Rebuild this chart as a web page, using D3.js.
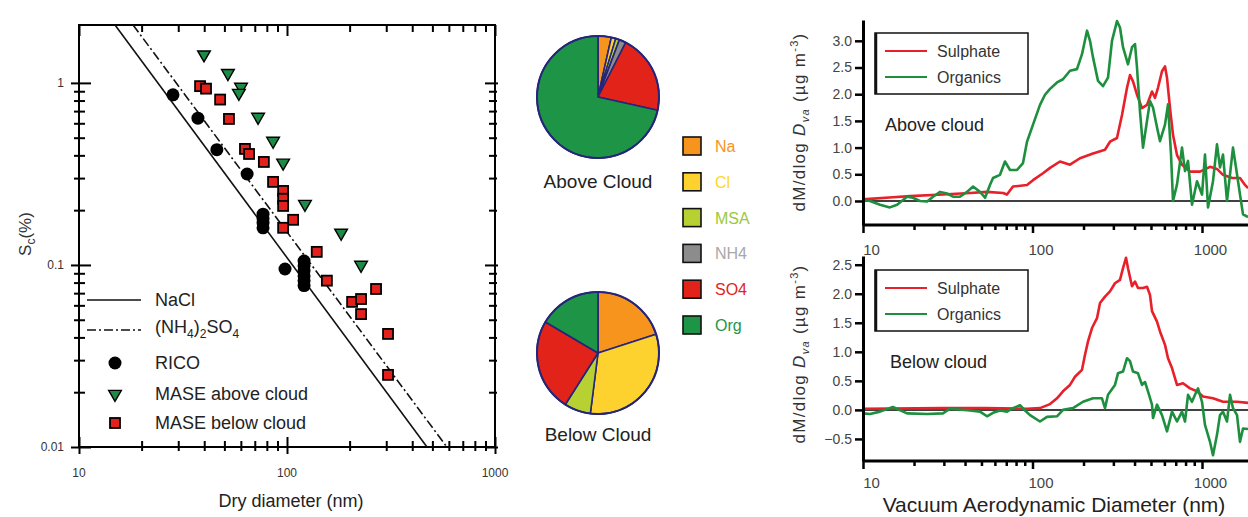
<!DOCTYPE html>
<html>
<head>
<meta charset="utf-8">
<script src="https://cdn.jsdelivr.net/npm/d3@7"></script>
<style>
body { margin: 0; background: #fff; }
svg { font-family: "Liberation Sans", Arial, Helvetica, sans-serif; }
</style>
</head>
<body>
<svg id="fig" width="1248" height="517"></svg>
<script>
// ---------- left panel data: critical supersaturation vs dry diameter ----------
const ricoPts = [[28.3,0.86],[37.3,0.64],[46.0,0.43],[64.3,0.316],[76.7,0.19],[76.7,0.18],[76.7,0.17],[76.7,0.16],
  [97.8,0.095],[120.8,0.105],[120.8,0.099],[120.8,0.093],[120.8,0.087],[120.8,0.082],[120.8,0.077]];
const maseAbove = [[39.9,1.43],[52.0,1.13],[60.1,0.95],[58.7,0.88],[72.6,0.65],[85.7,0.48],[95.8,0.364],
  [122,0.216],[182,0.150],[227,0.10]];
const maseBelow = [[38.2,0.96],[40.8,0.93],[47.7,0.81],[52.6,0.634],[62.8,0.434],[65.7,0.407],[77.4,0.368],
  [85.7,0.286],[95.8,0.255],[95.8,0.231],[95.8,0.211],[107,0.177],[95.8,0.16],[139,0.118],[155.5,0.082],
  [268,0.0738],[205.6,0.0627],[227,0.065],[227,0.0537],[306,0.0418],[306,0.0249]];
const naclLine = [[14.9,2.08],[471,0.01]];
const amsLine = [[18.2,2.08],[587,0.01]];
const xTicksL = [10, 100, 1000];
const yTicksL = [0.01, 0.1, 1];

// ---------- pie data: mass fractions ----------
const species = ["Na", "Cl", "MSA", "NH4", "SO4", "Org"];
const speciesFill = ["#f7941d", "#fdd22e", "#b8d132", "#8c8c8c", "#e2231a", "#1e9447"];
const speciesText = ["#f7941d", "#ffd52a", "#9cc83c", "#a8a8a8", "#e2231a", "#1e9447"];
const aboveFrac = [0.035, 0.012, 0.010, 0.018, 0.210, 0.715];
const belowFrac = [0.200, 0.320, 0.070, 0.000, 0.245, 0.165];

// ---------- right panels data: [vacuum aerodynamic diameter nm, dM/dlogDva] ----------
const aboveSulphate = [[10,0.03],[11.0,0.04],[15.0,0.07],[18.9,0.09],[29.6,0.12],[42.8,0.15],[53.9,0.17],
  [67.0,0.15],[70.7,0.12],[76.7,0.27],[92.8,0.30],[100.7,0.39],[115.3,0.52],[126.9,0.62],[145.3,0.74],
  [166.4,0.68],[190.6,0.80],[227.5,0.89],[267.7,0.96],[286.5,1.11],[315.1,1.18],[337.3,1.61],[361.1,2.12],
  [376.1,2.36],[391.7,2.24],[413.5,1.99],[442.6,1.74],[473.7,1.80],[507.0,2.05],[528.1,1.93],[550.0,2.12],
  [580.8,2.43],[605.0,2.52],[621.6,2.31],[647.5,1.74],[674.5,1.24],[712.1,0.86],[762.1,0.68],[849.7,0.55],
  [973.2,0.55],[1114.8,0.64],[1225.9,0.60],[1330.1,0.49],[1503.2,0.43],[1676.0,0.43],[1793.7,0.30],[1868.3,0.24]];
const aboveOrganics = [[10,0.02],[11.0,0.0],[12.6,-0.07],[14.4,-0.12],[15.9,-0.07],[18.2,0.08],[19.7,0.06],
  [21.7,0.0],[23.9,-0.01],[25.9,0.08],[28.5,0.17],[31.3,0.14],[34.0,0.08],[37.3,0.08],[41.1,0.17],[44.6,0.27],
  [49.0,0.17],[52.5,0.06],[56.1,0.30],[58.5,0.43],[64.3,0.49],[68.8,0.74],[73.7,0.58],[81.0,0.58],[87.9,0.71],
  [92.8,1.11],[100.7,1.43],[110.7,1.80],[118.5,1.99],[126.9,2.10],[139.5,2.22],[151.3,2.28],[166.4,2.44],
  [183.0,2.47],[195.9,2.75],[209.7,3.19],[218.4,3.0],[227.5,2.69],[243.5,2.25],[260.6,2.15],[278.9,2.31],
  [294.4,3.0],[315.1,3.37],[328.2,3.25],[342.0,2.88],[366.0,2.56],[386.4,2.88],[402.5,2.94],[413.5,2.5],
  [430.7,1.68],[448.7,1.0],[473.7,1.5],[493.4,1.87],[513.9,1.75],[542.6,1.38],[565.2,1.12],[605.0,1.43],
  [630.2,1.81],[656.4,0.87],[674.5,0.0],[712.1,0.31],[762.1,1.0],[793.8,0.56],[827.0,0.75],[873.0,-0.07],
  [934.3,0.37],[1000,0.12],[1041.6,0.87],[1084.9,-0.12],[1161.1,0.37],[1225.9,1.06],[1276.8,0.63],
  [1330.1,0.87],[1404.5,0.0],[1463.0,0.5],[1523.8,1.0],[1609.1,0.5],[1676.0,0.12],[1745.8,-0.25],[1868.3,-0.3]];
const belowSulphate = [[10,0.02],[29.6,0.03],[52.5,0.03],[92.8,0.02],[110.7,0.03],[126.9,0.10],[139.5,0.20],
  [151.3,0.32],[166.4,0.43],[178.1,0.57],[195.9,0.69],[204.1,0.95],[212.6,1.18],[224.4,1.41],[240.2,1.58],
  [250.2,1.84],[267.7,1.95],[286.5,2.04],[306.6,2.18],[328.2,2.24],[342.0,2.44],[356.2,2.62],[366.0,2.44],
  [386.4,2.13],[402.5,2.21],[419.2,2.10],[448.7,2.10],[473.7,2.12],[493.4,1.98],[507.0,1.70],[542.6,1.52],
  [565.2,1.35],[605.0,1.12],[630.2,0.89],[665.3,0.72],[712.1,0.43],[772.6,0.46],[849.7,0.37],[934.3,0.32],
  [1013.7,0.23],[1161.1,0.20],[1330.1,0.14],[1609.1,0.14],[1868.3,0.12]];
const belowOrganics = [[10,-0.06],[11.0,-0.07],[12.6,-0.03],[15.0,0.05],[18.2,-0.06],[23.9,-0.07],[29.6,-0.06],
  [32.6,0.02],[42.8,-0.01],[49.0,-0.03],[53.9,-0.11],[58.5,-0.05],[64.3,-0.01],[70.7,-0.03],[76.7,0.03],
  [84.4,0.08],[90.3,-0.01],[96.7,-0.09],[110.7,-0.20],[121.8,-0.12],[139.5,-0.11],[151.3,0.0],[173.4,0.03],
  [198.6,0.14],[227.5,0.20],[257.0,0.20],[267.7,0.03],[278.9,0.26],[306.6,0.43],[319.4,0.63],[342.0,0.66],
  [361.1,0.89],[376.1,0.84],[391.7,0.66],[419.2,0.63],[442.6,0.43],[461.0,0.48],[480.2,0.32],[507.0,0.09],
  [513.9,-0.14],[542.6,0.09],[580.8,-0.09],[621.6,-0.37],[665.3,-0.03],[712.1,-0.20],[762.1,-0.03],
  [793.8,-0.2],[827.0,0.26],[873.0,0.14],[909.3,0.26],[947.1,0.37],[1000,0.14],[1041.6,-0.26],[1114.8,-0.55],
  [1161.1,-0.78],[1225.9,-0.43],[1276.8,-0.09],[1330.1,-0.03],[1404.5,-0.2],[1463.0,0.26],[1523.8,0.03],
  [1609.1,-0.09],[1676.0,-0.55],[1745.8,-0.32],[1868.3,-0.33]];
const xTicksR = [10, 100, 1000];
const yTicksTop = [0, 0.5, 1, 1.5, 2, 2.5, 3];
const yTicksBottom = [-0.5, 0, 0.5, 1, 1.5, 2, 2.5];

const svg = d3.select("#fig");
const RED = "#e8202a", GREEN = "#1e8f3e";

// ================= left panel =================
const L = { x0: 79, x1: 495, y0: 25, y1: 447 };
const xL = d3.scaleLog().domain([10, 1000]).range([L.x0, L.x1]);
const yL = d3.scaleLog().domain([0.01, 2.08]).range([L.y1, L.y0]);
const isMajor = v => Math.abs(Math.log10(v) - Math.round(Math.log10(v))) < 1e-6;
const xMinorL = xL.ticks().filter(v => !isMajor(v));
const yMinorL = yL.ticks().filter(v => !isMajor(v) && v < 2.0);

const left = svg.append("g");

left.append("defs").append("clipPath").attr("id", "clipL")
  .append("rect").attr("x", L.x0).attr("y", L.y0).attr("width", L.x1 - L.x0).attr("height", L.y1 - L.y0);

// crossing ticks: outward + inward, drawn with d3 axes
function tickPair(g, outAxis, inAxis, values, outLen, inLen) {
  g.append("g").call(outAxis.tickValues(values).tickSize(outLen).tickFormat("")).call(a => a.select(".domain").remove());
  g.append("g").call(inAxis.tickValues(values).tickSize(inLen).tickFormat("")).call(a => a.select(".domain").remove());
}
const gl = left.append("g").attr("transform", `translate(${L.x0},0)`);
tickPair(gl, d3.axisLeft(yL), d3.axisRight(yL), yTicksL, 8, 12);
tickPair(gl, d3.axisLeft(yL), d3.axisRight(yL), yMinorL, 5, 6);
const gr = left.append("g").attr("transform", `translate(${L.x1},0)`);
tickPair(gr, d3.axisRight(yL), d3.axisLeft(yL), yTicksL, 3, 10);
tickPair(gr, d3.axisRight(yL), d3.axisLeft(yL), yMinorL, 2, 6);
const gb = left.append("g").attr("transform", `translate(0,${L.y1})`);
tickPair(gb, d3.axisBottom(xL), d3.axisTop(xL), xTicksL, 7, 10);
tickPair(gb, d3.axisBottom(xL), d3.axisTop(xL), xMinorL, 4, 6);
const gt = left.append("g").attr("transform", `translate(0,${L.y0})`);
gt.append("g").call(d3.axisBottom(xL).tickValues(xTicksL).tickSize(11).tickFormat("")).call(a => a.select(".domain").remove());
gt.append("g").call(d3.axisBottom(xL).tickValues(xMinorL).tickSize(7).tickFormat("")).call(a => a.select(".domain").remove());
left.selectAll(".tick line").attr("stroke", "#000").attr("stroke-width", 2);

left.append("rect").attr("x", L.x0).attr("y", L.y0).attr("width", L.x1 - L.x0).attr("height", L.y1 - L.y0)
  .attr("fill", "none").attr("stroke", "#000").attr("stroke-width", 2);

// tick labels
left.append("g").selectAll("text").data(yTicksL).join("text")
  .attr("x", 64).attr("y", d => yL(d)).attr("dy", "0.35em").attr("text-anchor", "end")
  .attr("font-size", 12).attr("fill", "#333").text(d => d === 1 ? "1" : d === 0.1 ? "0.1" : "0.01");
left.append("g").selectAll("text").data(xTicksL).join("text")
  .attr("x", d => xL(d)).attr("y", 473).attr("dy", "0.35em").attr("text-anchor", "middle")
  .attr("font-size", 12).attr("fill", "#333").text(d => d);

// axis titles
left.append("text").attr("x", 291).attr("y", 507).attr("text-anchor", "middle")
  .attr("font-size", 18).attr("fill", "#222").text("Dry diameter (nm)");
const yt = left.append("text").attr("transform", "translate(31,234) rotate(-90)").attr("text-anchor", "middle")
  .attr("font-size", 17).attr("fill", "#333");
yt.append("tspan").text("S");
yt.append("tspan").attr("font-size", 12).attr("dy", 4).text("c");
yt.append("tspan").attr("dy", -4).text("(%)");

// theory lines
const lineL = d3.line().x(d => xL(d[0])).y(d => yL(d[1]));
const plotL = left.append("g").attr("clip-path", "url(#clipL)");
plotL.append("path").datum(naclLine).attr("d", lineL).attr("fill", "none").attr("stroke", "#111").attr("stroke-width", 1.6);
plotL.append("path").datum(amsLine).attr("d", lineL).attr("fill", "none").attr("stroke", "#111").attr("stroke-width", 1.6)
  .attr("stroke-dasharray", "9,3,2,3");

// markers
const triSym = d3.symbol().type(d3.symbolTriangle).size(70);
function drawRico(g, pts) {
  g.selectAll(null).data(pts).join("circle").attr("cx", d => xL(d[0])).attr("cy", d => yL(d[1]))
    .attr("r", 6.5).attr("fill", "#000");
}
function drawTri(g, pts) {
  g.selectAll(null).data(pts).join("path").attr("d", triSym)
    .attr("transform", d => `translate(${xL(d[0])},${yL(d[1])}) rotate(180)`)
    .attr("fill", "#1d8a45").attr("stroke", "#000").attr("stroke-width", 1.4);
}
function drawSq(g, pts) {
  g.selectAll(null).data(pts).join("rect").attr("x", d => xL(d[0]) - 5).attr("y", d => yL(d[1]) - 5)
    .attr("width", 10).attr("height", 10).attr("fill", "#e3201b").attr("stroke", "#000").attr("stroke-width", 1.8);
}
drawTri(plotL.append("g"), maseAbove);
drawSq(plotL.append("g"), maseBelow);
drawRico(plotL.append("g"), ricoPts);

// legend
const lg = left.append("g").attr("font-size", 18).attr("fill", "#222");
lg.append("line").attr("x1", 87).attr("x2", 141).attr("y1", 300).attr("y2", 300).attr("stroke", "#111").attr("stroke-width", 1.6);
lg.append("line").attr("x1", 87).attr("x2", 141).attr("y1", 330).attr("y2", 330).attr("stroke", "#111").attr("stroke-width", 1.6)
  .attr("stroke-dasharray", "9,3,2,3");
lg.append("text").attr("x", 155).attr("y", 306).text("NaCl");
const am = lg.append("text").attr("x", 155).attr("y", 333);
am.append("tspan").text("(NH");
am.append("tspan").attr("font-size", 12).attr("dy", 5).text("4");
am.append("tspan").attr("dy", -5).text(")");
am.append("tspan").attr("font-size", 12).attr("dy", 5).text("2");
am.append("tspan").attr("dy", -5).text("SO");
am.append("tspan").attr("font-size", 12).attr("dy", 5).text("4");
lg.append("circle").attr("cx", 115).attr("cy", 363).attr("r", 6.5).attr("fill", "#000");
lg.append("text").attr("x", 155).attr("y", 369).text("RICO");
lg.append("path").attr("d", triSym).attr("transform", "translate(115,394) rotate(180)")
  .attr("fill", "#1d8a45").attr("stroke", "#000").attr("stroke-width", 1.4);
lg.append("text").attr("x", 155).attr("y", 400).text("MASE above cloud");
lg.append("rect").attr("x", 110).attr("y", 418).attr("width", 10).attr("height", 10)
  .attr("fill", "#e3201b").attr("stroke", "#000").attr("stroke-width", 1.8);
lg.append("text").attr("x", 155).attr("y", 429).text("MASE below cloud");

// ================= pies =================
const pie = d3.pie().sort(null).value(d => d.v);
const arc = d3.arc().innerRadius(0).outerRadius(61);
function drawPie(cx, cy, frac, label, ly) {
  const g = svg.append("g").attr("transform", `translate(${cx},${cy})`);
  const data = pie(species.map((s, i) => ({ s, v: frac[i], c: speciesFill[i] })));
  g.selectAll("path").data(data.filter(d => d.data.v > 0)).join("path").attr("d", arc)
    .attr("fill", d => d.data.c).attr("stroke", "#25257a").attr("stroke-width", 1.6).attr("stroke-linejoin", "round");
  g.append("circle").attr("r", 61).attr("fill", "none").attr("stroke", "#25257a").attr("stroke-width", 2);
  svg.append("text").attr("x", cx).attr("y", ly).attr("text-anchor", "middle")
    .attr("font-size", 19).attr("fill", "#222").text(label);
}
drawPie(598, 97, aboveFrac, "Above Cloud", 188);
drawPie(598, 353, belowFrac, "Below Cloud", 441);

const pieLeg = svg.append("g").selectAll("g").data(species).join("g")
  .attr("transform", (d, i) => `translate(683,${137 + i * 35.8})`);
pieLeg.append("rect").attr("width", 18).attr("height", 18).attr("fill", (d, i) => speciesFill[i])
  .attr("stroke", "#111").attr("stroke-width", 1.6);
pieLeg.append("text").attr("x", 32).attr("y", 15).attr("font-size", 16)
  .attr("fill", (d, i) => speciesText[i]).text(d => d);

// ================= right panels =================
const xR = d3.scaleLog().domain([10, 2000]).range([863, 863 + 169.5 * Math.log10(200)]);
const xMinorR = xR.ticks().filter(v => !isMajor(v));

function drawPanel(cfg) {
  const g = svg.append("g");
  const y = d3.scaleLinear().domain(cfg.yDomain).range(cfg.yRange);
  const [yb, yt] = cfg.yRange;
  g.append("defs").append("clipPath").attr("id", cfg.id)
    .append("rect").attr("x", 863).attr("y", yt - 4).attr("width", 400).attr("height", yb - yt + 4);

  // zero line
  g.append("line").attr("x1", 863).attr("x2", 1248).attr("y1", y(0)).attr("y2", y(0))
    .attr("stroke", "#000").attr("stroke-width", 1.5);

  const line = d3.line().x(d => xR(d[0])).y(d => y(d[1]));
  const pg = g.append("g").attr("clip-path", `url(#${cfg.id})`);
  pg.append("path").datum(cfg.sulphate).attr("d", line).attr("fill", "none").attr("stroke", RED)
    .attr("stroke-width", 2.6).attr("stroke-linejoin", "round");
  pg.append("path").datum(cfg.organics).attr("d", line).attr("fill", "none").attr("stroke", GREEN)
    .attr("stroke-width", 2.6).attr("stroke-linejoin", "round");

  // y axis
  const ya = g.append("g").attr("transform", "translate(863,0)")
    .call(d3.axisLeft(y).tickValues(cfg.yTicks).tickSize(8).tickSizeOuter(0).tickPadding(3).tickFormat(d3.format(".1f")));
  ya.select(".domain").attr("stroke-width", 3);
  ya.selectAll(".tick line").attr("stroke-width", 2.5);
  ya.selectAll(".tick text").attr("font-size", 14).attr("fill", "#444").attr("font-family", null);

  // x axis
  const xa = g.append("g").attr("transform", `translate(0,${yb})`);
  xa.append("g").call(d3.axisBottom(xR).tickValues(xMinorR).tickSize(5).tickFormat("").tickSizeOuter(0))
    .call(a => a.select(".domain").remove());
  const xm = xa.append("g").call(d3.axisBottom(xR).tickValues(xTicksR).tickSize(8).tickSizeOuter(0)
    .tickPadding(cfg.xPad).tickFormat(d => String(d)));
  xa.selectAll(".tick line").attr("stroke-width", 2.5);
  xm.select(".domain").attr("stroke-width", 3);
  xm.selectAll(".tick text").attr("font-size", 15).attr("fill", "#444").attr("dx", 8).attr("font-family", null);
  xa.selectAll(".domain").attr("d", `M863,0H1248`);

  // y title
  const t = g.append("text").attr("transform", `translate(805,${cfg.titleY}) rotate(-90)`)
    .attr("text-anchor", "middle").attr("font-size", 17).attr("letter-spacing", 1.3).attr("fill", "#333");
  t.append("tspan").text("dM/dlog ");
  t.append("tspan").attr("font-style", "italic").text("D");
  t.append("tspan").attr("font-style", "italic").attr("font-size", 11).attr("dy", 4).text("va");
  t.append("tspan").attr("dy", -4).text(" (\u00b5g m");
  t.append("tspan").attr("font-size", 11).attr("dy", -7).text("-3");
  t.append("tspan").attr("dy", 7).text(")");

  // legend box
  const lb = cfg.legendY;
  g.append("rect").attr("x", 875).attr("y", lb).attr("width", 153).attr("height", 61)
    .attr("fill", "#fff").attr("stroke", "#111").attr("stroke-width", 1.5);
  g.append("line").attr("x1", 876).attr("x2", 876).attr("y1", lb).attr("y2", lb + 61).attr("stroke", "#111").attr("stroke-width", 2.5);
  [["Sulphate", RED, 18], ["Organics", GREEN, 44]].forEach(([name, col, dy]) => {
    g.append("line").attr("x1", 885).attr("x2", 927).attr("y1", lb + dy).attr("y2", lb + dy)
      .attr("stroke", col).attr("stroke-width", 2.2);
    g.append("text").attr("x", 937).attr("y", lb + dy + 6).attr("font-size", 16).attr("fill", "#333").text(name);
  });
  g.append("text").attr("x", cfg.labelX).attr("y", cfg.labelY).attr("font-size", 18).attr("fill", "#222").text(cfg.label);
}

drawPanel({ id: "clipTop", yDomain: [-0.45, 3.39], yRange: [225, 20], yTicks: yTicksTop,
  sulphate: aboveSulphate, organics: aboveOrganics, legendY: 33, label: "Above cloud",
  labelX: 885, labelY: 131, titleY: 122, xPad: 11 });
drawPanel({ id: "clipBot", yDomain: [-0.88, 2.65], yRange: [461, 256], yTicks: yTicksBottom,
  sulphate: belowSulphate, organics: belowOrganics, legendY: 270, label: "Below cloud",
  labelX: 890, labelY: 368, titleY: 354, xPad: 8 });

svg.append("text").attr("x", 1054).attr("y", 512).attr("text-anchor", "middle")
  .attr("font-size", 21).attr("fill", "#222").text("Vacuum Aerodynamic Diameter (nm)");
</script>
</body>
</html>
